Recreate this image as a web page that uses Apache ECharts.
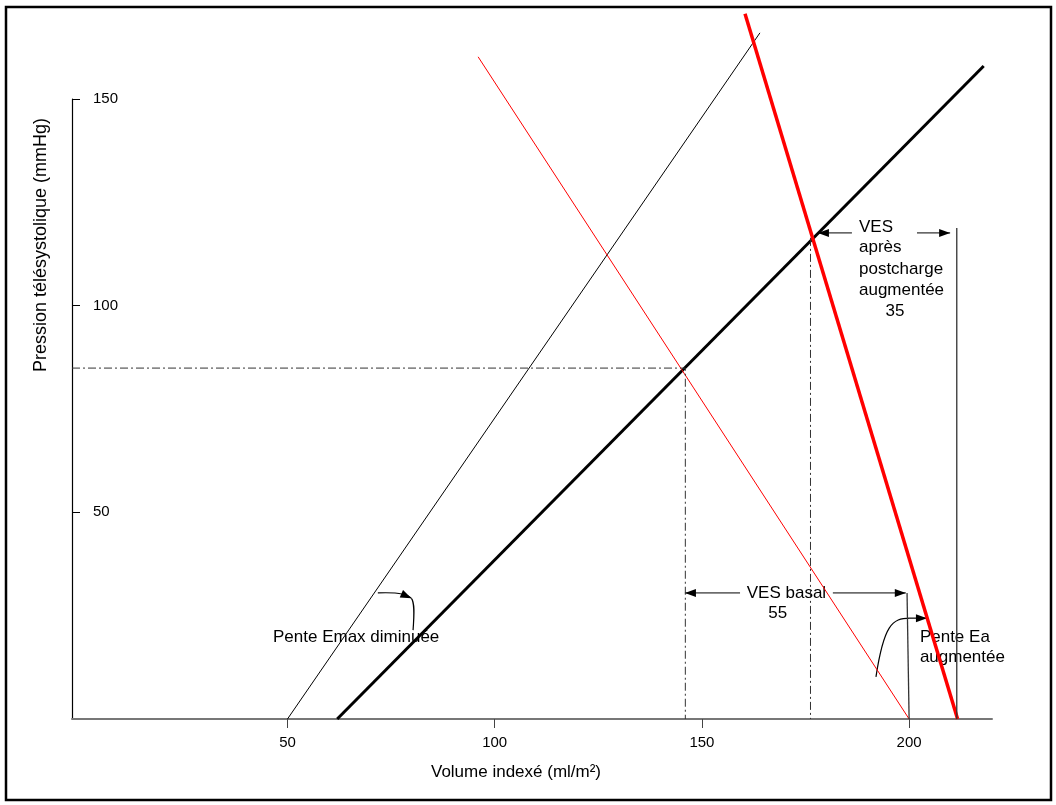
<!DOCTYPE html>
<html>
<head>
<meta charset="utf-8">
<script src="https://cdn.jsdelivr.net/npm/echarts@6/dist/echarts.min.js"></script>
<style>
html,body{margin:0;padding:0;background:#fff;}
#c{width:1056px;height:805px;}
</style>
</head>
<body>
<div id="c"></div>
<script>
// ---- axes ----
const xRange = [-2, 220];
const yRange = [0, 150];
const xTickValues = [50, 100, 150, 200];
const yTickInterval = 50;
const xAxisTitle = 'Volume indexé (ml/m²)';
const yAxisTitle = 'Pression télésystolique (mmHg)';

// ---- lines (volume, pression) ----
const emaxDiminuee = [[50, 0], [164, 166]];
const emaxBasal = [[62, 0], [218, 158]];
const eaBasal = [[96, 160.2], [200, 0]];
const eaAugmentee = [[160.4, 170.6], [211.7, 0]];
const guideBasal = [[-2, 84.9], [146, 84.9], [146, 0]];
const guidePost = [[176.2, 116.4], [176.2, 0]];
const edvBasal = [[199.5, 30.5], [200, 0]];
const edvAug = [[211.5, 0], [211.5, 118.8]];

// ---- annotations (data units) ----
const arrowsStraight = [
  [[159.2, 30.5], [145.9, 30.5]],
  [[181.6, 30.5], [199.2, 30.5]],
  [[186.2, 117.6], [178.0, 117.6]],
  [[201.9, 117.6], [209.9, 117.6]]
];
// bezier curves: [start, cp1, cp2, end], arrow head at end when flagged
const curves = [
  {c: [[71.8, 30.5], [76.6, 30.7], [79.0, 30.2], [79.9, 29.2]], head: true},
  {c: [[79.9, 29.2], [80.7, 28.2], [80.6, 25.5], [80.3, 21.5]], head: false},
  {c: [[192.0, 10.2], [193.9, 22.7], [195.9, 24.4], [200.2, 24.4]], head: false},
  {c: [[200.2, 24.4], [201.5, 24.4], [203.0, 24.4], [204.3, 24.4]], head: true}
];
const texts = [
  {t: 'VES basal', p: [170.4, 30.5], align: 'center'},
  {t: '55', p: [168.3, 25.6], align: 'center'},
  {t: 'VES', p: [187.9, 119.0], align: 'left'},
  {t: 'après', p: [187.9, 114.0], align: 'left'},
  {t: 'postcharge', p: [187.9, 108.8], align: 'left'},
  {t: 'augmentée', p: [187.9, 103.7], align: 'left'},
  {t: '35', p: [196.6, 98.6], align: 'center'},
  {t: 'Pente Emax diminuée', p: [46.5, 19.8], align: 'left'},
  {t: 'Pente Ea', p: [202.6, 19.8], align: 'left'},
  {t: 'augmentée', p: [202.6, 14.9], align: 'left'}
];

const FONT = '"Liberation Sans", Arial, sans-serif';
const dashDot = [8, 3, 2, 3];

function lineSeries(data, color, width, type) {
  return {
    type: 'line', data: data, symbol: 'none', clip: false, silent: true,
    animation: false,
    lineStyle: {color: color, width: width, type: type || 'solid'}
  };
}

const option = {
  animation: false,
  backgroundColor: '#fff',
  grid: {left: 72, top: 99, right: 64, bottom: 86, containLabel: false},
  xAxis: {
    type: 'value', min: xRange[0], max: xRange[1],
    splitLine: {show: false},
    axisLine: {show: true, onZero: false, lineStyle: {color: '#777', width: 2}},
    axisTick: {show: true, length: 9, customValues: xTickValues, lineStyle: {color: '#444', width: 1}},
    axisLabel: {customValues: xTickValues, margin: 16, color: '#000', fontSize: 15, fontFamily: FONT},
    name: xAxisTitle, nameLocation: 'middle', nameGap: 45,
    nameTextStyle: {color: '#000', fontSize: 17, fontFamily: FONT, padding: [0, 32, 0, 0]}
  },
  yAxis: {
    type: 'value', min: yRange[0], max: yRange[1], interval: yTickInterval,
    splitLine: {show: false},
    axisLine: {show: true, onZero: false, lineStyle: {color: '#000', width: 1.2}},
    axisTick: {show: true, inside: true, length: 8, lineStyle: {color: '#000', width: 1}},
    axisLabel: {inside: true, margin: 21, showMinLabel: false, color: '#000', fontSize: 15, fontFamily: FONT},
    name: yAxisTitle, nameLocation: 'middle', nameGap: 22,
    nameTextStyle: {color: '#000', fontSize: 18, fontFamily: FONT, padding: [0, 0, 0, 328]}
  },
  series: [
    lineSeries(emaxDiminuee, '#000', 1),
    lineSeries(emaxBasal, '#000', 3),
    lineSeries(eaBasal, '#ff0000', 1),
    lineSeries(eaAugmentee, '#ff0000', 3.5),
    lineSeries(guideBasal, '#333', 1, dashDot),
    lineSeries(guidePost, '#333', 1, dashDot),
    lineSeries(edvBasal, '#333', 1.3),
    lineSeries(edvAug, '#333', 1.3)
  ]
};

const chart = echarts.init(document.getElementById('c'), null, {renderer: 'canvas'});
chart.setOption(option);

function px(p) { return chart.convertToPixel({gridIndex: 0}, p); }

function head(tip, from) {
  const dx = tip[0] - from[0], dy = tip[1] - from[1];
  const len = Math.hypot(dx, dy) || 1;
  const ux = dx / len, uy = dy / len;
  const L = 11, W = 4;
  const bx = tip[0] - ux * L, by = tip[1] - uy * L;
  return {
    type: 'polygon', silent: true,
    shape: {points: [[tip[0], tip[1]], [bx - uy * W, by + ux * W], [bx + uy * W, by - ux * W]]},
    style: {fill: '#000'}
  };
}

const g = [];
g.push({type: 'rect', silent: true, shape: {x: 6, y: 7, width: 1045, height: 793},
  style: {fill: 'none', stroke: '#000', lineWidth: 2.5}});

arrowsStraight.forEach(function (a) {
  const s = px(a[0]), e = px(a[1]);
  g.push({type: 'line', silent: true, shape: {x1: s[0], y1: s[1], x2: e[0], y2: e[1]},
    style: {stroke: '#000', lineWidth: 1}});
  g.push(head(e, s));
});

curves.forEach(function (c) {
  const p = c.c.map(px);
  g.push({type: 'bezierCurve', silent: true,
    shape: {x1: p[0][0], y1: p[0][1], cpx1: p[1][0], cpy1: p[1][1], cpx2: p[2][0], cpy2: p[2][1], x2: p[3][0], y2: p[3][1]},
    style: {stroke: '#000', lineWidth: 1.2, fill: 'none'}});
  if (c.head) g.push(head(p[3], p[1]));
});

texts.forEach(function (o) {
  const p = px(o.p);
  g.push({type: 'text', silent: true, x: p[0], y: p[1],
    style: {text: o.t, fill: '#000', font: '17px ' + FONT, align: o.align, verticalAlign: 'middle'}});
});

chart.setOption({graphic: g});
</script>
</body>
</html>
